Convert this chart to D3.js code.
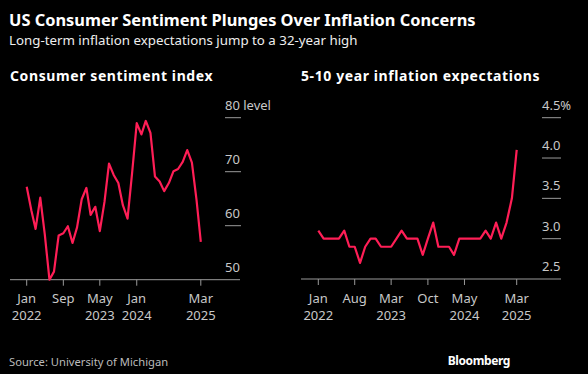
<!DOCTYPE html>
<html>
<head>
<meta charset="utf-8">
<script src="https://cdn.jsdelivr.net/npm/d3@7"></script>
<style>
  html, body { margin: 0; padding: 0; background: #000; }
  svg { display: block; font-family: "Noto Sans", "Open Sans", sans-serif; }
</style>
</head>
<body>
<svg id="chart" width="588" height="374"></svg>
<script>
// monthly series, Jan 2022 .. Mar 2025
var START = new Date(2022, 0, 1);
var SENTIMENT = [67.2, 62.8, 59.4, 65.2, 58.4, 50.0, 51.5, 58.2, 58.6, 59.9, 56.8, 59.7,
                 64.9, 67.0, 62.0, 63.5, 59.0, 64.4, 71.5, 69.4, 67.9, 63.8, 61.3, 69.7,
                 79.0, 76.9, 79.4, 77.2, 69.1, 68.2, 66.4, 67.9, 70.1, 70.5, 71.8, 74.0,
                 71.7, 64.7, 57.0];
var EXPECT = [3.1, 3.0, 3.0, 3.0, 3.0, 3.1, 2.9, 2.9, 2.7, 2.9, 3.0, 3.0,
              2.9, 2.9, 2.9, 3.0, 3.1, 3.0, 3.0, 3.0, 2.8, 3.0, 3.2, 2.9,
              2.9, 2.9, 2.8, 3.0, 3.0, 3.0, 3.0, 3.0, 3.1, 3.0, 3.2, 3.0,
              3.2, 3.5, 4.1];
var LEFT_XTICKS = [['2022-01', 'Jan', '2022'], ['2022-09', 'Sep', ''], ['2023-05', 'May', '2023'], ['2024-01', 'Jan', '2024'], ['2025-03', 'Mar', '2025']];
var RIGHT_XTICKS = [['2022-01', 'Jan', '2022'], ['2022-08', 'Aug', ''], ['2023-03', 'Mar', '2023'], ['2023-10', 'Oct', ''], ['2024-05', 'May', '2024'], ['2025-03', 'Mar', '2025']];
var LEFT_YTICKS = [50, 60, 70, 80];
var RIGHT_YTICKS = [2.5, 3.0, 3.5, 4.0, 4.5];

var RED = '#ff1e56', GREY_TXT = '#c8c8c8', AXIS = '#9a9a9a';
var svg = d3.select('#chart');
function month(i) { return new Date(2022, i, 1); }
function parseYM(s) { var p = s.split('-'); return new Date(+p[0], +p[1] - 1, 1); }

// headings
svg.append('text').attr('x', 9).attr('y', 26).attr('fill', '#fff').attr('font-weight', 700).attr('font-size', 16.4)
  .text('US Consumer Sentiment Plunges Over Inflation Concerns');
svg.append('text').attr('x', 9).attr('y', 45).attr('fill', '#eee').attr('font-size', 13.3)
  .text('Long-term inflation expectations jump to a 32-year high');
svg.append('text').attr('x', 9).attr('y', 366).attr('fill', '#bbb').attr('font-size', 11.2)
  .text('Source: University of Michigan');
svg.append('text').attr('x', 510).attr('y', 365).attr('fill', '#fff').attr('font-weight', 700).attr('font-size', 12)
  .attr('text-anchor', 'end').attr('letter-spacing', -0.4).text('Bloomberg');

function panel(o) {
  var g = svg.append('g');
  var x = d3.scaleTime().domain([month(0), month(o.data.length - 1)]).range(o.xr);
  var y = d3.scaleLinear().domain(o.yd).range(o.yr);
  g.append('text').attr('x', o.titleX).attr('y', 81).attr('fill', '#fff').attr('font-weight', 700).attr('font-size', 14)
    .attr('letter-spacing', 0.6).text(o.title);
  // y ticks: short segment on the right with label sitting on top
  o.yticks.forEach(function (v, i) {
    if (i > 0) g.append('line').attr('x1', o.tx[0]).attr('x2', o.tx[1]).attr('y1', y(v)).attr('y2', y(v))
      .attr('stroke', AXIS).attr('stroke-width', 1);
    g.append('text').attr('x', o.tx[0]).attr('y', y(v) - 8).attr('fill', GREY_TXT).attr('font-size', 13)
      .text(o.fmt(v) + (i === o.yticks.length - 1 ? o.unit : ''));
  });
  // baseline axis
  g.append('line').attr('x1', o.axisX[0]).attr('x2', o.axisX[1]).attr('y1', y(o.yd[0])).attr('y2', y(o.yd[0]))
    .attr('stroke', AXIS).attr('stroke-width', 1);
  o.xticks.forEach(function (t) {
    var xx = x(parseYM(t[0]));
    g.append('line').attr('x1', xx).attr('x2', xx).attr('y1', y(o.yd[0])).attr('y2', y(o.yd[0]) + 6)
      .attr('stroke', AXIS).attr('stroke-width', 1);
    g.append('text').attr('x', xx).attr('y', 303).attr('text-anchor', 'middle').attr('fill', GREY_TXT).attr('font-size', 13).text(t[1]);
    if (t[2]) g.append('text').attr('x', xx).attr('y', 320).attr('text-anchor', 'middle').attr('fill', GREY_TXT).attr('font-size', 13).text(t[2]);
  });
  var line = d3.line().x(function (d, i) { return x(month(i)); }).y(function (d) { return y(d); });
  g.append('path').datum(o.data).attr('d', line).attr('fill', 'none').attr('stroke', RED)
    .attr('stroke-width', 2.2).attr('stroke-linejoin', 'round');
}

panel({ data: SENTIMENT, title: 'Consumer sentiment index', titleX: 10, xr: [26.7, 200.8], yd: [50, 80], yr: [279.7, 117.7],
  yticks: LEFT_YTICKS, unit: ' level', fmt: d3.format('d'), tx: [225, 241], axisX: [10, 240], xticks: LEFT_XTICKS });
panel({ data: EXPECT, title: '5-10 year inflation expectations', titleX: 301, xr: [318.3, 516.7], yd: [2.5, 4.5], yr: [279, 117.7],
  yticks: RIGHT_YTICKS, unit: '%', fmt: d3.format('.1f'), tx: [542, 561], axisX: [301, 561], xticks: RIGHT_XTICKS });
</script>
</body>
</html>
